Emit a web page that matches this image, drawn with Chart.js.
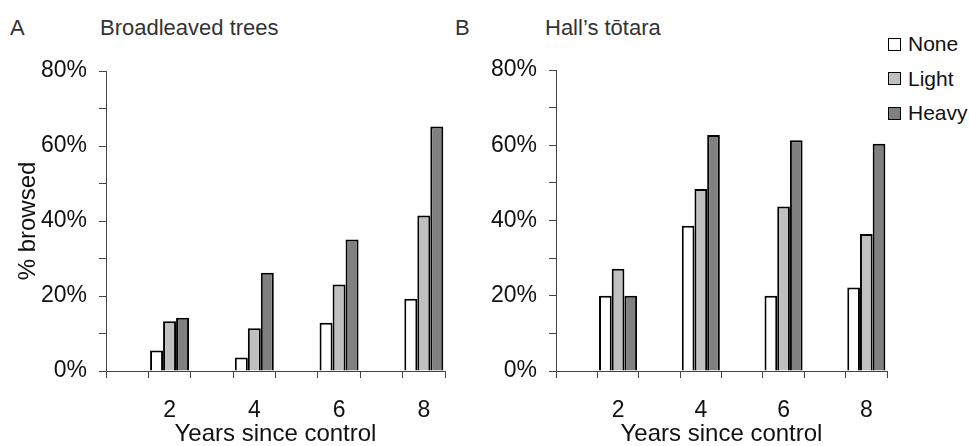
<!DOCTYPE html>
<html lang="en">
<head>
  <meta charset="UTF-8" />
  <title>% browsed by years since control</title>
  <script src="https://cdn.jsdelivr.net/npm/chart.js"></script>
  <style>
    body {
      margin: 0;
      width: 969px;
      height: 446px;
      overflow: hidden;
      position: relative;
      background: #fff;
      font-family: 'Liberation Sans', Arial, sans-serif;
    }
    canvas { position: absolute; top: 0; }
    #chartA { left: 0; }
    #chartB { left: 480px; }
    .panel {
      position: absolute;
      top: 17px;
      font-size: 22px;
      line-height: 22px;
      color: #333;
      white-space: nowrap;
    }
    #legend { position: absolute; left: 888px; top: 27px; }
    #legend .item {
      height: 34.5px;
      display: flex;
      align-items: center;
      font-size: 21px;
      color: #111;
    }
    #legend .swatch {
      width: 11px;
      height: 11px;
      border: 1.5px solid #000;
      margin-right: 7px;
    }
  </style>
</head>
<body>
  <div class="panel" style="left:10px">A</div>
  <div class="panel" style="left:100px">Broadleaved trees</div>
  <div class="panel" style="left:455px">B</div>
  <div class="panel" style="left:545px">Hall’s tōtara</div>
  <div id="legend"></div>

  <canvas id="chartA" width="480" height="446"></canvas>
  <canvas id="chartB" width="489" height="446"></canvas>

  <script>
    // x slots are years 1..8, only the even years were surveyed
    const years = ['1', '2', '3', '4', '5', '6', '7', '8'];
    const surveyYears = [2, 4, 6, 8];
    const yTicks = [0, 20, 40, 60, 80];

    const seriesNames = ['None', 'Light', 'Heavy'];
    const seriesColors = ['#ffffff', '#c0c0c0', '#808080'];

    // A - Broadleaved trees (% browsed)
    const broadNone = [5.5, 3.6, 12.9, 19.3];
    const broadLight = [13.3, 11.4, 23.1, 41.5];
    const broadHeavy = [14.2, 26.2, 35.1, 65.2];

    // B - Hall's totara (% browsed)
    const hallsNone = [20.0, 38.6, 20.0, 22.2];
    const hallsLight = [27.2, 48.4, 43.7, 36.4];
    const hallsHeavy = [20.0, 62.7, 61.3, 60.4];

    function toSlots(vals) {
      return years.map(y => {
        const i = surveyYears.indexOf(Number(y));
        return i < 0 ? null : vals[i];
      });
    }

    const fontFamily = "'Liberation Sans', Arial, sans-serif";
    const axisColor = '#444';

    function makeChart(id, series, opts) {
      const ctx = document.getElementById(id).getContext('2d');
      return new Chart(ctx, {
        type: 'bar',
        data: {
          labels: years,
          datasets: series.map((vals, i) => ({
            label: seriesNames[i],
            data: toSlots(vals),
            backgroundColor: seriesColors[i],
            borderColor: '#000',
            borderWidth: 2,
            categoryPercentage: 0.92,
            barPercentage: 1.0
          }))
        },
        options: {
          responsive: false,
          animation: false,
          layout: { padding: { top: opts.top, right: opts.right, left: 0, bottom: 0 } },
          plugins: { legend: { display: false }, tooltip: { enabled: false } },
          scales: {
            x: {
              grid: { offset: true, drawOnChartArea: false, drawTicks: true, tickLength: 7, color: axisColor },
              border: { display: true, color: axisColor, width: 1 },
              ticks: {
                autoSkip: false,
                maxRotation: 0,
                padding: 19,
                color: '#111',
                font: { family: fontFamily, size: 23 },
                callback: (v, i) => surveyYears.includes(Number(years[i])) ? years[i] : ''
              },
              title: {
                display: true,
                text: 'Years since control',
                color: '#111',
                font: { family: fontFamily, size: 24, lineHeight: 1 },
                padding: 0
              },
              afterFit: s => { s.height = 446 - 371; }
            },
            y: {
              min: 0,
              max: 80,
              grid: { drawOnChartArea: false, drawTicks: true, tickLength: 7, color: axisColor },
              border: { display: true, color: axisColor, width: 1 },
              ticks: {
                stepSize: 10,
                padding: 12,
                color: '#111',
                font: { family: fontFamily, size: 23 },
                callback: v => yTicks.includes(v) ? v + '%' : ''
              },
              title: {
                display: opts.yTitle,
                text: '% browsed',
                color: '#111',
                font: { family: fontFamily, size: 24 },
                padding: { top: 14, bottom: 0 }
              },
              afterFit: s => { s.width = opts.yWidth; }
            }
          }
        }
      });
    }

    makeChart('chartA', [broadNone, broadLight, broadHeavy], { top: 71, right: 35, yWidth: 106, yTitle: true });
    makeChart('chartB', [hallsNone, hallsLight, hallsHeavy], { top: 70, right: 82, yWidth: 76, yTitle: false });

    const legend = document.getElementById('legend');
    seriesNames.forEach((name, i) => {
      const item = document.createElement('div');
      item.className = 'item';
      item.innerHTML = `<span class="swatch" style="background:${seriesColors[i]}"></span>${name}`;
      legend.appendChild(item);
    });
  </script>
</body>
</html>
